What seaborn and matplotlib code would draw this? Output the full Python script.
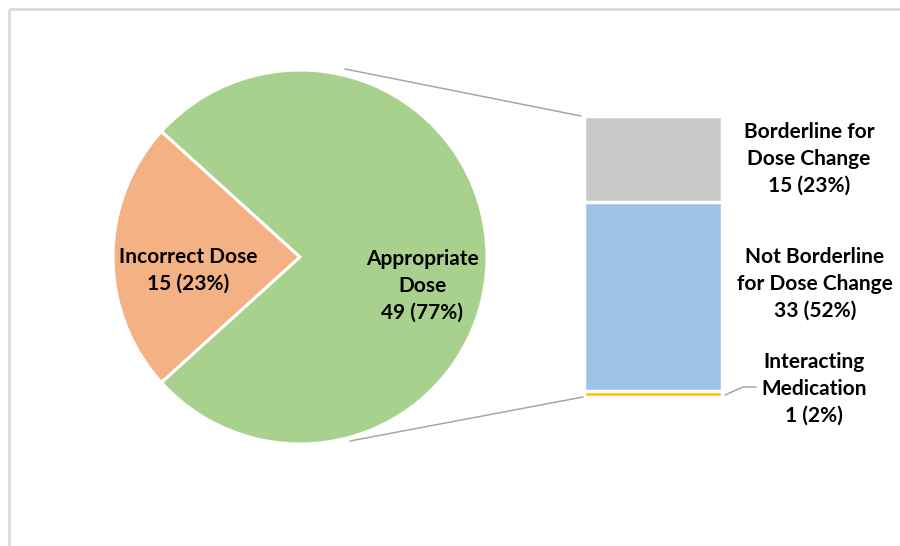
import matplotlib
matplotlib.use("Agg")
import matplotlib.pyplot as plt
import seaborn as sns
import pandas as pd
from itertools import accumulate

# ---- data ----
pie_labels = ["Incorrect Dose", "Appropriate\nDose"]
pie_values = [15, 49]
pie_pcts = [23, 77]

bar_labels = ["Interacting\nMedication", "Not Borderline\nfor Dose Change", "Borderline for\nDose Change"]
bar_values = [1, 33, 15]
bar_pcts = [2, 52, 23]

pie_colors = ["#F4B183", "#A9D18E"]
bar_colors = ["#FFC000", "#9DC3E6", "#C9C9C9"]

sns.set_theme(style="white")
plt.rcParams['font.family'] = ['Lato', 'DejaVu Sans']
FS = 15
LS = 1.42

W, H = 900, 546
fig = plt.figure(figsize=(W / 100, H / 100), dpi=100)
ax = fig.add_axes([0, 0, 1, 1])

# ---- pie ----
total = sum(pie_values)
start = 180 - pie_values[0] / total * 180
cx, cy, r = 300, H - 257, 187
ax.pie(pie_values, colors=pie_colors, startangle=start, center=(cx, cy), radius=r,
       wedgeprops=dict(edgecolor="white", linewidth=2.2))
ax.set_xlim(0, W)
ax.set_ylim(0, H)
ax.set_aspect("equal")
ax.axis("off")

ax.text(188, H - 270.5, f"{pie_labels[0]}\n{pie_values[0]} ({pie_pcts[0]}%)", ha="center", va="center",
        fontsize=FS, fontweight="bold", linespacing=LS, color="black")
ax.text(422, H - 285.5, f"{pie_labels[1]}\n{pie_values[1]} ({pie_pcts[1]}%)", ha="center", va="center",
        fontsize=FS, fontweight="bold", linespacing=LS, color="black")

# connector lines
ax.plot([345, 581], [H - 69, H - 116], color="#A6A6A6", lw=1.1)
ax.plot([350, 583], [H - 441, H - 397], color="#A6A6A6", lw=1.1)
# leader line for Interacting Medication
ax.plot([725, 743, 756], [H - 395, H - 387, H - 387], color="#A6A6A6", lw=1.1)

# frame
ax.plot([9, 9], [0, H - 9], color="#D9D9D9", lw=2, solid_capstyle="butt")
ax.plot([9, W], [H - 9, H - 9], color="#D9D9D9", lw=2, solid_capstyle="butt")

# ---- stacked bar ----
bax = fig.add_axes([584 / W, (H - 397) / H, 138 / W, 281 / H])
cum = list(accumulate(bar_values))
for h, c in reversed(list(zip(cum, bar_colors))):
    sns.barplot(x=["s"], y=[h], color=c, width=1.0, saturation=1, ax=bax,
                edgecolor="white", linewidth=2.5)
bax.set_xlim(-0.5, 0.5)
bax.set_ylim(0, sum(bar_values))
bax.axis("off")

label_pos = [(814, 389), (815, 284), (809, 159)]
for lab, v, p, (x, y) in zip(bar_labels, bar_values, bar_pcts, label_pos):
    ax.text(x, H - y, f"{lab}\n{v} ({p}%)", ha="center", va="center",
            fontsize=FS, fontweight="bold", linespacing=LS, color="black")

fig.savefig("out.png", dpi=100)
